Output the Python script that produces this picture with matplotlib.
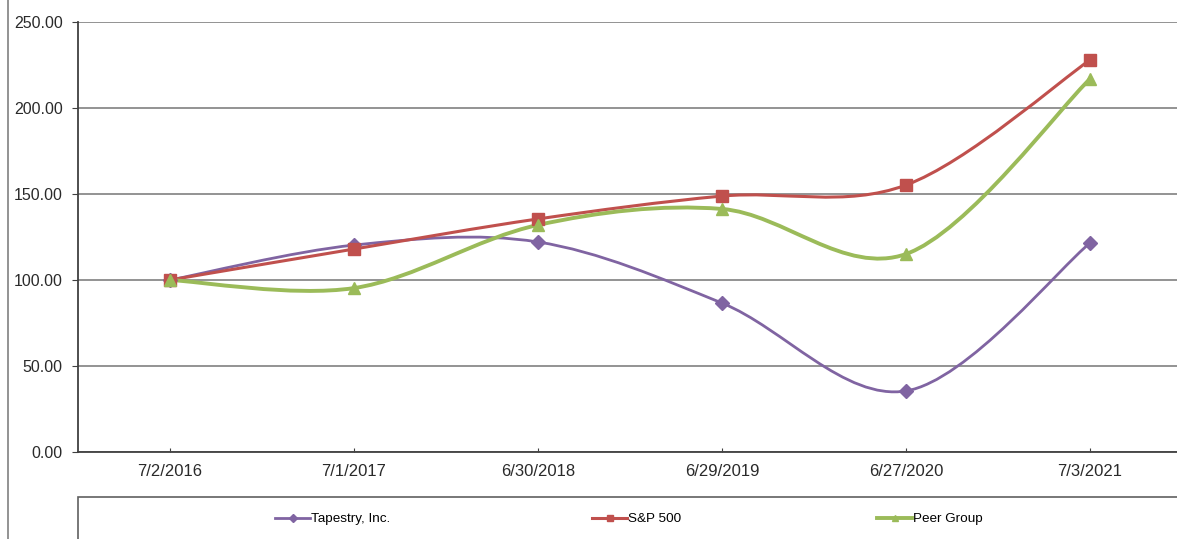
import numpy as np
import matplotlib.pyplot as plt
from matplotlib.path import Path
from matplotlib.patches import PathPatch, Rectangle
from matplotlib.lines import Line2D

plt.rcParams['font.family'] = ['Liberation Sans', 'DejaVu Sans']

dates = ['7/2/2016', '7/1/2017', '6/30/2018', '6/29/2019', '6/27/2020', '7/3/2021']
tapestry = [100.0, 120.3, 122.1, 86.6, 35.5, 121.5]
sp500 = [100.0, 118.0, 135.5, 148.8, 155.2, 227.9]
peer = [100.0, 95.3, 132.0, 141.3, 115.1, 216.9]

series = [
    ('Tapestry, Inc.', tapestry, '#8064A2', 'D', 7.5, 2.0),
    ('S&P 500', sp500, '#C0504D', 's', 8.5, 2.2),
    ('Peer Group', peer, '#9BBB59', '^', 9, 2.8),
]


def smooth_path(x, y, t=1/6):
    # Excel-style smoothed line: cubic bezier through the points
    pts = np.column_stack([x, y]).astype(float)
    n = len(pts)
    verts = [pts[0]]
    codes = [Path.MOVETO]
    for i in range(n - 1):
        p0 = pts[i - 1] if i > 0 else pts[i]
        p1 = pts[i]
        p2 = pts[i + 1]
        p3 = pts[i + 2] if i + 2 < n else pts[i + 1]
        c1 = p1 + (p2 - p0) * t
        c2 = p2 - (p3 - p1) * t
        verts += [c1, c2, p2]
        codes += [Path.CURVE4] * 3
    return Path(verts, codes)


fig = plt.figure(figsize=(11.77, 5.39), dpi=100)
ax = fig.add_axes([78 / 1177, 87 / 539, 1104 / 1177, 430 / 539])

x = np.arange(len(dates))
handles = []
for name, vals, color, marker, ms, lw in series:
    ax.add_patch(PathPatch(smooth_path(x, vals), facecolor='none', edgecolor=color,
                           lw=lw, zorder=3, clip_on=False))
    ax.plot(x, vals, linestyle='none', marker=marker, color=color, ms=ms, zorder=4,
            clip_on=False)
    handles.append(Line2D([], [], color=color, lw=lw, marker=marker, ms=4))

ax.set_xlim(-0.5, len(dates) - 0.5)
ax.set_ylim(0, 250)
ax.set_yticks(np.arange(0, 251, 50))
ax.set_yticklabels(['%.2f' % v for v in np.arange(0, 251, 50)])
ax.set_xticks(x)
ax.set_xticklabels(dates)
ax.tick_params(axis='y', direction='out', length=4, color='#404040', labelsize=11.5,
               labelcolor='#2a2a2a', pad=7)
ax.tick_params(axis='x', direction='in', length=3, color='#404040', labelsize=12,
               labelcolor='#2a2a2a', pad=9)
ax.grid(axis='y', color='#808080', lw=1.2)
ax.set_axisbelow(True)
for side in ['top', 'right']:
    ax.spines[side].set_visible(False)
ax.spines['left'].set_color('#404040')
ax.spines['bottom'].set_color('#404040')
ax.spines['left'].set_linewidth(1.3)
ax.spines['bottom'].set_linewidth(1.3)

# legend box below the plot
fig.patches.append(Rectangle((78 / 1177, -10 / 539), 1.2, 52 / 539, transform=fig.transFigure,
                             facecolor='white', edgecolor='#606060', lw=1.2))
# left frame line
fig.lines.append(Line2D([8 / 1177, 8 / 1177], [0, 1], transform=fig.transFigure,
                        color='#808080', lw=1.2))

leg_x = [275, 592, 877]
for h, (name, *_), lx in zip(handles, series, leg_x):
    fig.legend(handles=[h], labels=[name], loc='center left', frameon=False,
               bbox_to_anchor=(lx / 1177, 20 / 539), fontsize=9.7, handlelength=2.6,
               handletextpad=0.1, borderpad=0, borderaxespad=0)

fig.savefig('out.png', dpi=100, facecolor='white')
